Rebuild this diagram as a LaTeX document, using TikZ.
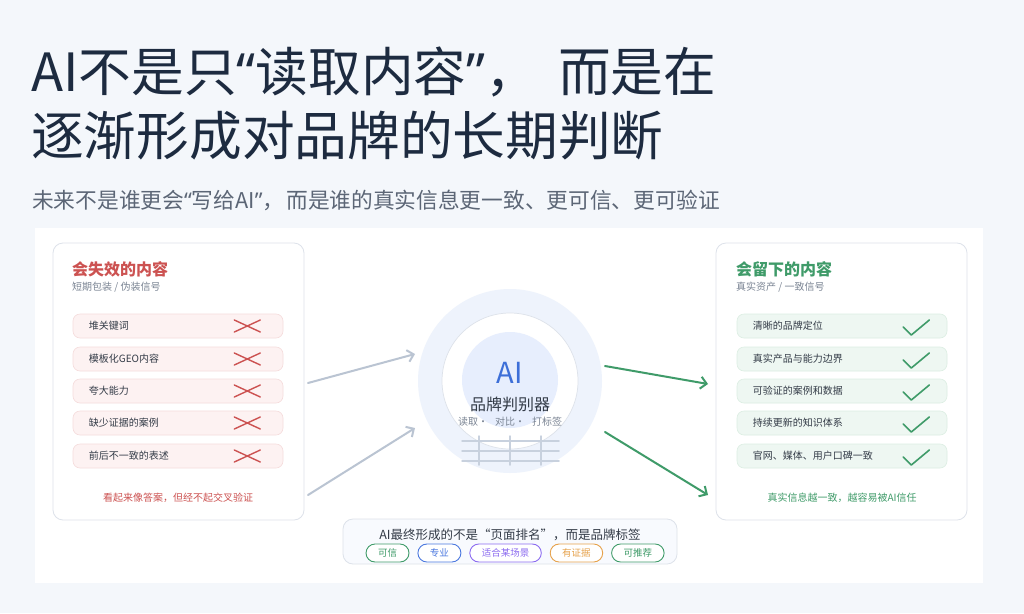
\documentclass[tikz,border=0pt]{standalone}
\usepackage{fontspec}
\setmainfont{Noto Sans CJK SC}
\newfontfamily\quotefont{Noto Sans}
\newcommand{\openq}{{\quotefont “}}
\newcommand{\closeq}{{\quotefont ”}}
\usetikzlibrary{arrows.meta, positioning, calc}

\definecolor{pagebg}{HTML}{F4F7FB}
\definecolor{titleink}{HTML}{1D2B40}
\definecolor{subink}{HTML}{5C6676}
\definecolor{bodyink}{HTML}{333B47}
\definecolor{softink}{HTML}{7B8594}
\definecolor{panelline}{HTML}{DDE2EA}
\definecolor{badred}{HTML}{CC5251}
\definecolor{badfill}{HTML}{FDF2F2}
\definecolor{badline}{HTML}{F5DCDC}
\definecolor{goodgreen}{HTML}{3F9B69}
\definecolor{goodfill}{HTML}{EEF7F2}
\definecolor{goodline}{HTML}{DCEEE3}
\definecolor{ringfill}{HTML}{EEF3FC}
\definecolor{corefill}{HTML}{E7EEFD}
\definecolor{aiblue}{HTML}{3D6FD8}
\definecolor{gridline}{HTML}{C8D1DE}
\definecolor{arrowgrey}{HTML}{BAC4D2}
\definecolor{tagblue}{HTML}{4B78DF}
\definecolor{tagpurple}{HTML}{8C6CF0}
\definecolor{tagorange}{HTML}{E6A24C}

\begin{document}
\begin{tikzpicture}[x=1pt, y=-1pt, >={Straight Barb[length=6pt,width=12pt]}, line join=round, line cap=round,
    panel/.style={draw=panelline, fill=white, rounded corners=10pt, line width=0.8pt, minimum width=251pt, minimum height=277pt},
    badrow/.style={draw=badline, fill=badfill, rounded corners=7pt, line width=0.6pt, minimum width=210pt, minimum height=24pt},
    goodrow/.style={draw=goodline, fill=goodfill, rounded corners=7pt, line width=0.6pt, minimum width=210pt, minimum height=24pt},
    rowtext/.style={font=\fontsize{10}{12}\selectfont, text=bodyink, inner sep=0pt},
    cross/.style={draw=badred, line width=1.4pt},
    tick/.style={draw=goodgreen, line width=1.6pt},
    tag/.style={draw=#1, text=#1, fill=white, rounded corners=9pt, line width=0.9pt, minimum height=18pt, inner xsep=12pt, inner ysep=0pt, font=\fontsize{9.5}{11}\selectfont}]
      \useasboundingbox (0,0) rectangle (1024,613);
      \fill[pagebg] (0,0) rectangle (1024,613);
      \fill[white] (35,228) rectangle (983,583);

      % heading
      \node[anchor=base west, inner sep=0pt, text=titleink, font=\fontsize{52.7}{53}\selectfont] (head1) at (31,91) {AI不是只\openq 读取内容\closeq ，\hspace{20pt}而是在};
      \node[anchor=base west, inner sep=0pt, text=titleink, font=\fontsize{52.7}{53}\selectfont] (head2) at (31,155) {逐渐形成对品牌的长期判断};
      \node[anchor=base west, inner sep=0pt, text=subink, font=\fontsize{21.7}{22}\selectfont] (sub) at (32,208) {未来不是谁更会\openq 写给AI\closeq ，\hspace{2pt}而是谁的真实信息更一致、更可信、更可验证};

      % left panel
      \node[panel] (bad) at (178.5,381.5) {};
      \node[anchor=west, inner sep=0pt, text=badred, font=\fontsize{16}{18}\bfseries] (badtitle) at (72,269) {会失效的内容};
      \node[anchor=west, inner sep=0pt, text=softink, font=\fontsize{10}{12}\selectfont] (badsub) at (72,287) {短期包装 / 伪装信号};
      \node[badrow] (b1) at (178,326) {};
      \node[badrow] (b2) at (178,359) {};
      \node[badrow] (b3) at (178,391) {};
      \node[badrow] (b4) at (178,423) {};
      \node[badrow] (b5) at (178,456) {};
      \node[rowtext, right=16pt of b1.west] {堆关键词};
      \node[rowtext, right=16pt of b2.west] {模板化GEO内容};
      \node[rowtext, right=16pt of b3.west] {夸大能力};
      \node[rowtext, right=16pt of b4.west] {缺少证据的案例};
      \node[rowtext, right=16pt of b5.west] {前后不一致的表述};
      \draw[cross] ($(b1.east)+(-49,-6)$) -- ++(26,12) ($(b1.east)+(-49,6)$) -- ++(26,-12);
      \draw[cross] ($(b2.east)+(-49,-6)$) -- ++(26,12) ($(b2.east)+(-49,6)$) -- ++(26,-12);
      \draw[cross] ($(b3.east)+(-49,-6)$) -- ++(26,12) ($(b3.east)+(-49,6)$) -- ++(26,-12);
      \draw[cross] ($(b4.east)+(-49,-6)$) -- ++(26,12) ($(b4.east)+(-49,6)$) -- ++(26,-12);
      \draw[cross] ($(b5.east)+(-49,-6)$) -- ++(26,12) ($(b5.east)+(-49,6)$) -- ++(26,-12);
      \node[inner sep=0pt, text=badred, font=\fontsize{10}{12}\selectfont] (badnote) at (178,498) {看起来像答案，但经不起交叉验证};

      % right panel
      \node[panel] (good) at (841.5,381.5) {};
      \node[anchor=west, inner sep=0pt, text=goodgreen, font=\fontsize{16}{18}\bfseries] (goodtitle) at (736,269) {会留下的内容};
      \node[anchor=west, inner sep=0pt, text=softink, font=\fontsize{10}{12}\selectfont] (goodsub) at (736,287) {真实资产 / 一致信号};
      \node[goodrow] (g1) at (842,326) {};
      \node[goodrow] (g2) at (842,359) {};
      \node[goodrow] (g3) at (842,391) {};
      \node[goodrow] (g4) at (842,423) {};
      \node[goodrow] (g5) at (842,456) {};
      \node[rowtext, right=16pt of g1.west] {清晰的品牌定位};
      \node[rowtext, right=16pt of g2.west] {真实产品与能力边界};
      \node[rowtext, right=16pt of g3.west] {可验证的案例和数据};
      \node[rowtext, right=16pt of g4.west] {持续更新的知识体系};
      \node[rowtext, right=16pt of g5.west] {官网、媒体、用户口碑一致};
      \draw[tick] ($(g1.east)+(-44,1)$) -- ++(8,8) -- ++(18,-15);
      \draw[tick] ($(g2.east)+(-44,1)$) -- ++(8,8) -- ++(18,-15);
      \draw[tick] ($(g3.east)+(-44,1)$) -- ++(8,8) -- ++(18,-15);
      \draw[tick] ($(g4.east)+(-44,1)$) -- ++(8,8) -- ++(18,-15);
      \draw[tick] ($(g5.east)+(-44,1)$) -- ++(8,8) -- ++(18,-15);
      \node[inner sep=0pt, text=goodgreen, font=\fontsize{10}{12}\selectfont] (goodnote) at (842,498) {真实信息越一致，越容易被AI信任};

      % judge in the middle
      \node[circle, fill=ringfill, minimum size=184pt] (ring) at (510,381) {};
      \node[circle, fill=white, draw=panelline, line width=0.7pt, minimum size=136pt] (disc) at (510,381) {};
      \node[circle, fill=corefill, minimum size=96pt] (core) at (510,380) {};
      \node[text=aiblue, inner sep=0pt, font=\fontsize{29}{30}\selectfont] (ai) at (510,373) {AI};
      \node[text=bodyink, inner sep=0pt, font=\fontsize{16}{18}\selectfont] (judge) at (510,404) {品牌判别器};
      \node[text=softink, inner sep=0pt, font=\fontsize{10}{12}\selectfont] (steps) at (510,422) {读取·\hspace{7pt}对比·\hspace{7pt}打标签};
      \draw[gridline, line width=1.5pt] (462,441) -- (559,441) (462,451) -- (559,451) (462,461) -- (559,461);
      \draw[gridline, line width=1.5pt] (479,436) -- (479,465) (510,436) -- (510,465) (541,436) -- (541,465);

      % flows
      \coordinate (inA) at (308,383);
      \coordinate (inB) at (308,495);
      \coordinate (hitA) at (415,354);
      \coordinate (hitB) at (415,428);
      \coordinate (outA) at (605,366);
      \coordinate (outB) at (605,432);
      \coordinate (keepA) at (708,384);
      \coordinate (keepB) at (708,495);
      \draw[->, arrowgrey, line width=2pt] (inA) -- (hitA);
      \draw[->, arrowgrey, line width=2pt] (inB) -- (hitB);
      \draw[->, goodgreen, line width=2pt] (outA) -- (keepA);
      \draw[->, goodgreen, line width=2pt] (outB) -- (keepB);

      % labels strip
      \node[draw=panelline, fill=ringfill!40, rounded corners=10pt, line width=0.8pt, minimum width=334pt, minimum height=45pt] (strip) at (510,541.5) {};
      \node[text=bodyink, inner sep=0pt, font=\fontsize{12.5}{14}\selectfont] (striptext) at (510,535) {AI最终形成的不是“页面排名”，而是品牌标签};
      \node[tag=goodgreen] (t1) at (387.5,553) {可信};
      \node[tag=tagblue, right=8pt of t1] (t2) {专业};
      \node[tag=tagpurple, right=8pt of t2] (t3) {适合某场景};
      \node[tag=tagorange, right=8pt of t3] (t4) {有证据};
      \node[tag=goodgreen, right=8pt of t4] (t5) {可推荐};
    \end{tikzpicture}
\end{document}
